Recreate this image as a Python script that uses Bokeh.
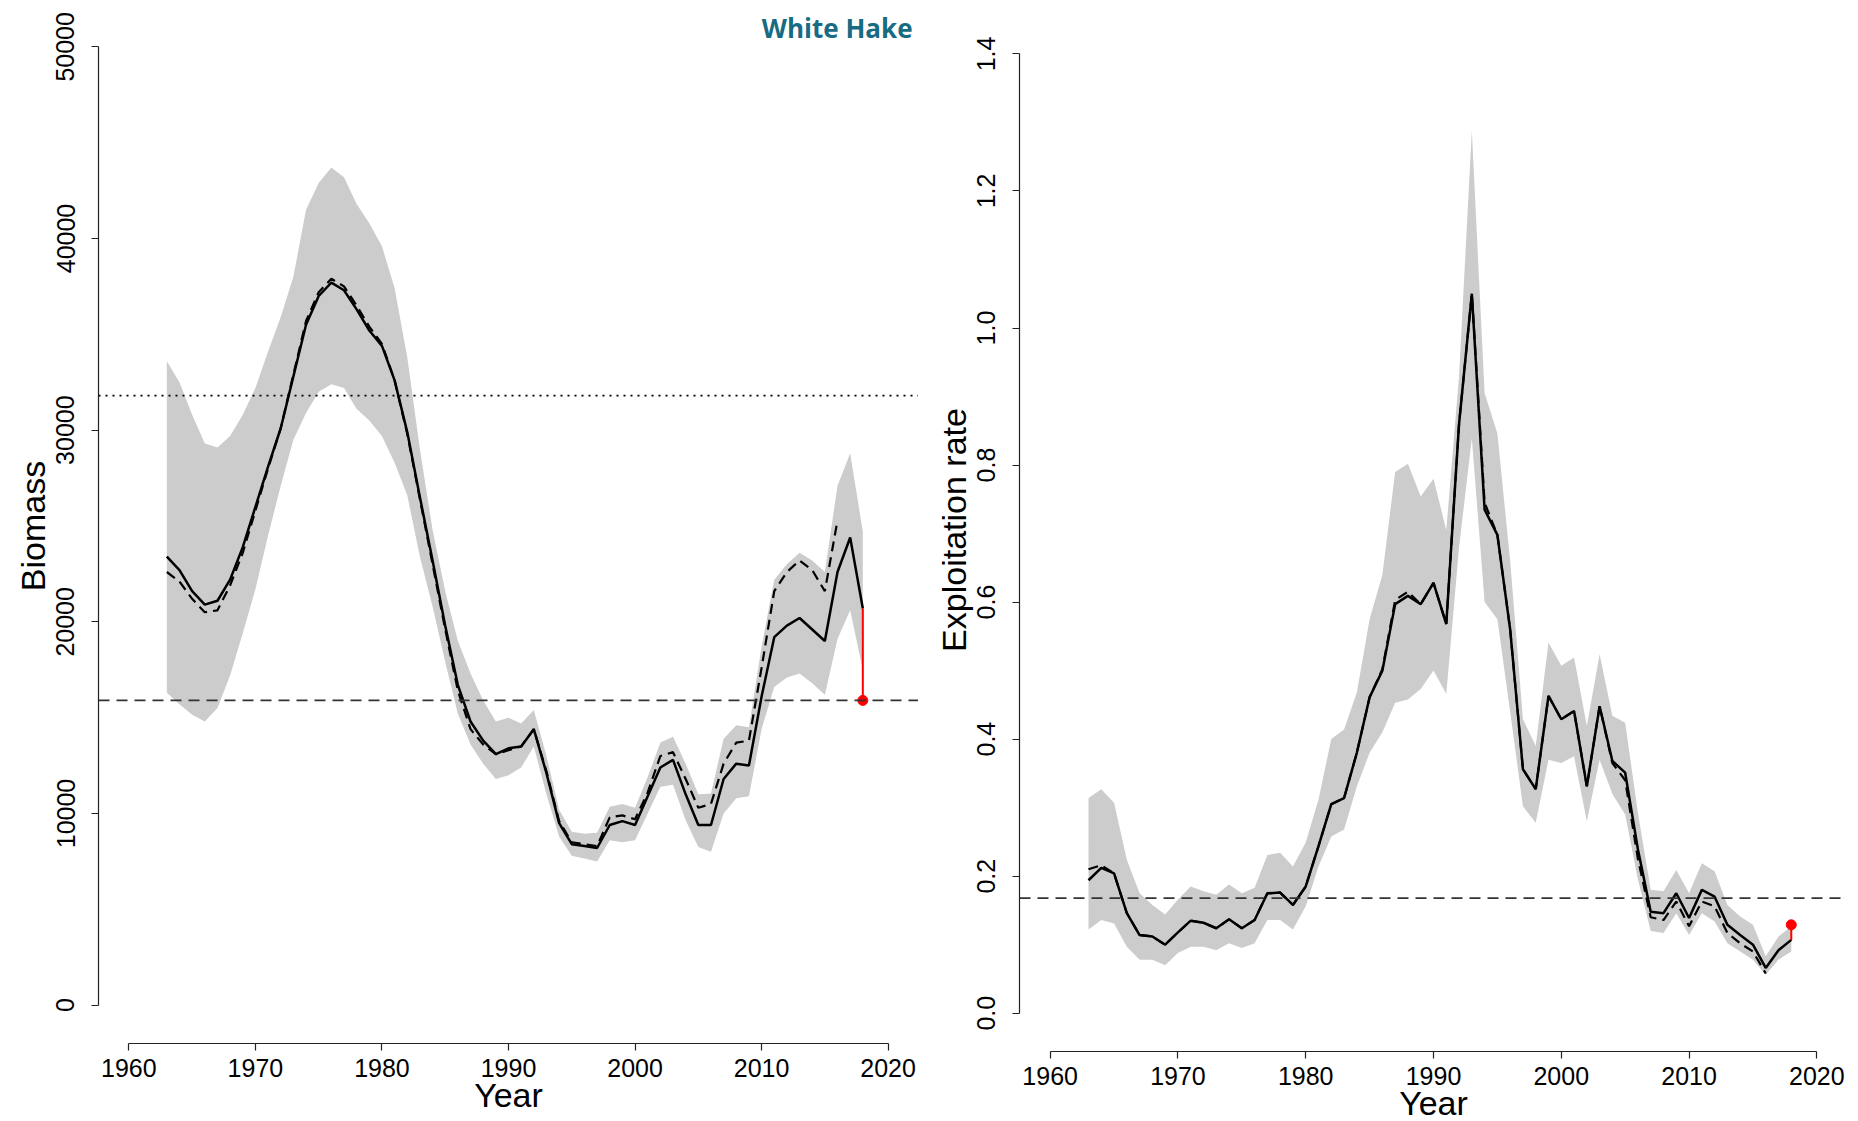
from bokeh.plotting import figure
from bokeh.models import Range1d, FixedTicker, PrintfTickFormatter, Span, Label
from bokeh.layouts import row
from bokeh.embed import file_html
from bokeh.resources import INLINE

# ---------------- data ----------------
years = list(range(1963, 2019))
years_retro = list(range(1963, 2017))

biomass = [23400, 22700, 21600, 20900, 21100, 22200, 23900, 26000, 28100, 30100,
           32800, 35500, 37000, 37700, 37300, 36300, 35200, 34400, 32600, 29900,
           26500, 23200, 19800, 16700, 14800, 13800, 13100, 13400, 13500, 14400,
           12100, 9500, 8400, 8300, 8200, 9400, 9600, 9400, 10900, 12400,
           12800, 11000, 9400, 9400, 11800, 12600, 12500, 16100, 19200, 19800,
           20200, 19600, 19000, 22600, 24400, 20700]
biomass_retro = [22600, 22100, 21200, 20500, 20600, 21900, 23600, 25800, 28000, 30100,
                 32900, 35700, 37200, 37900, 37500, 36500, 35400, 34500, 32600, 29800,
                 26400, 23000, 19600, 16400, 14400, 13600, 13100, 13300, 13500, 14400,
                 12200, 9600, 8500, 8400, 8300, 9800, 9900, 9700, 11100, 13000,
                 13200, 11800, 10300, 10500, 12600, 13700, 13800, 17600, 21600, 22600,
                 23200, 22700, 21600, 25300]
biomass_lo = [16300, 15700, 15150, 14800, 15500, 17200, 19400, 21700, 24500, 27100,
              29500, 30900, 32000, 32400, 32200, 31100, 30500, 29700, 28300, 26600,
              23400, 20800, 17900, 15200, 13600, 12600, 11800, 12000, 12400, 13500,
              11000, 8800, 7800, 7650, 7500, 8600, 8500, 8600, 10000, 11400,
              11500, 9650, 8250, 8000, 10000, 10800, 10900, 14400, 16600, 17100,
              17300, 16800, 16200, 19100, 20600, 17500]
biomass_hi = [33600, 32500, 30800, 29300, 29100, 29700, 30800, 32200, 34100, 35900,
              38000, 41500, 42900, 43700, 43200, 41800, 40800, 39600, 37400, 33800,
              29000, 24800, 21600, 19000, 17300, 15900, 14800, 15000, 14700, 15400,
              13000, 10200, 9050, 8950, 9000, 10350, 10500, 10300, 11900, 13700,
              14000, 12600, 11000, 11050, 13900, 14600, 14500, 18700, 22200, 23000,
              23600, 23200, 22600, 27100, 28800, 24700]
bmsy = 31800
bthresh = 15900
biomass_adj = 15900

exploit = [0.194, 0.212, 0.204, 0.146, 0.114, 0.112, 0.100, 0.118, 0.135, 0.132,
           0.124, 0.137, 0.124, 0.136, 0.175, 0.176, 0.158, 0.185, 0.244, 0.305,
           0.314, 0.380, 0.461, 0.500, 0.597, 0.609, 0.597, 0.628, 0.568, 0.860,
           1.050, 0.735, 0.698, 0.560, 0.356, 0.327, 0.463, 0.429, 0.441, 0.331,
           0.448, 0.368, 0.351, 0.239, 0.148, 0.146, 0.175, 0.139, 0.180, 0.170,
           0.129, 0.114, 0.100, 0.066, 0.092, 0.107]
exploit_retro = [0.210, 0.216, 0.204, 0.146, 0.114, 0.112, 0.100, 0.118, 0.135, 0.132,
                 0.124, 0.137, 0.124, 0.136, 0.175, 0.176, 0.158, 0.185, 0.244, 0.305,
                 0.314, 0.380, 0.461, 0.502, 0.603, 0.615, 0.597, 0.628, 0.568, 0.860,
                 1.050, 0.745, 0.698, 0.560, 0.356, 0.327, 0.463, 0.429, 0.441, 0.331,
                 0.448, 0.365, 0.340, 0.225, 0.140, 0.136, 0.163, 0.127, 0.163, 0.156,
                 0.117, 0.102, 0.090, 0.058]
exploit_lo = [0.122, 0.136, 0.131, 0.097, 0.078, 0.078, 0.070, 0.088, 0.097, 0.097,
              0.092, 0.102, 0.095, 0.102, 0.136, 0.136, 0.122, 0.156, 0.214, 0.258,
              0.268, 0.331, 0.380, 0.410, 0.453, 0.458, 0.473, 0.500, 0.466, 0.680,
              0.839, 0.600, 0.575, 0.440, 0.302, 0.278, 0.370, 0.365, 0.375, 0.280,
              0.370, 0.320, 0.290, 0.195, 0.120, 0.117, 0.146, 0.114, 0.146, 0.134,
              0.102, 0.090, 0.078, 0.056, 0.078, 0.090]
exploit_hi = [0.314, 0.327, 0.307, 0.224, 0.175, 0.158, 0.144, 0.166, 0.185, 0.178,
              0.173, 0.188, 0.175, 0.183, 0.231, 0.234, 0.214, 0.249, 0.312, 0.400,
              0.414, 0.468, 0.575, 0.640, 0.790, 0.802, 0.754, 0.780, 0.705, 0.930,
              1.288, 0.905, 0.846, 0.660, 0.429, 0.390, 0.541, 0.507, 0.519, 0.419,
              0.524, 0.434, 0.424, 0.292, 0.180, 0.178, 0.209, 0.175, 0.219, 0.207,
              0.158, 0.141, 0.129, 0.083, 0.112, 0.127]
fmsy = 0.168
exploit_adj = 0.129

year_ticks = [1960, 1970, 1980, 1990, 2000, 2010, 2020]
biomass_ticks = [0, 10000, 20000, 30000, 40000, 50000]
exploit_ticks = [0.0, 0.2, 0.4, 0.6, 0.8, 1.0, 1.2, 1.4]

title_text = "White Hake"

# ---------------- styling ----------------
FONT = "Liberation Sans"
BAND = "#cccccc"
TEAL = "#176b83"

TOP = 8
BOTTOM = 68


def make_fig(fw, fh, left, right, xr, yr):
    p = figure(frame_width=fw, frame_height=fh, output_backend="svg",
               toolbar_location=None, x_range=Range1d(*xr), y_range=Range1d(*yr),
               min_border_left=left, min_border_right=right,
               min_border_top=TOP, min_border_bottom=BOTTOM)
    p.outline_line_color = None
    p.xgrid.visible = False
    p.ygrid.visible = False
    p.background_fill_color = "white"
    p.border_fill_color = "white"
    for ax in (p.xaxis[0], p.yaxis[0]):
        ax.axis_line_color = "#222222"
        ax.axis_line_width = 1.2
        ax.major_tick_line_color = "#222222"
        ax.major_tick_line_width = 1.2
        ax.major_tick_out = 7
        ax.major_tick_in = 0
        ax.minor_tick_out = 0
        ax.minor_tick_in = 0
        ax.major_label_text_font = FONT
        ax.major_label_text_font_size = "25px"
        ax.major_label_text_color = "black"
        ax.axis_label_text_font = FONT
        ax.axis_label_text_font_size = "34px"
        ax.axis_label_text_font_style = "normal"
        ax.axis_label_text_color = "black"
    p.xaxis[0].ticker = FixedTicker(ticks=year_ticks)
    p.xaxis[0].bounds = (year_ticks[0], year_ticks[-1])
    p.xaxis[0].axis_label = "Year"
    p.xaxis[0].major_label_standoff = 8
    p.xaxis[0].axis_label_standoff = -4
    p.yaxis[0].major_label_orientation = "vertical"
    p.yaxis[0].major_label_standoff = 17
    p.yaxis[0].axis_label_standoff = 2
    return p


XR = (1957.6, 2022.4)

# ---------- left: biomass ----------
YR1 = (-2000, 52000)
p1 = make_fig(820, 1035, 98, 0, XR, YR1)
p1.yaxis[0].ticker = FixedTicker(ticks=biomass_ticks)
p1.yaxis[0].formatter = PrintfTickFormatter(format="%d")
p1.yaxis[0].bounds = (biomass_ticks[0], biomass_ticks[-1])
p1.yaxis[0].axis_label = "Biomass"

p1.varea(x=years, y1=biomass_lo, y2=biomass_hi, fill_color=BAND, fill_alpha=1.0)
p1.add_layout(Span(location=bmsy, dimension="width", line_color="black",
                   line_width=1.6, line_dash="2 5"))
p1.add_layout(Span(location=bthresh, dimension="width", line_color="#333333",
                   line_width=1.6, line_dash="11 7"))
p1.line(years_retro, biomass_retro, line_color="black", line_width=2.2, line_dash="10 6")
p1.line(years, biomass, line_color="black", line_width=2.5)
p1.segment(x0=[years[-1]], y0=[biomass[-1]], x1=[years[-1]], y1=[biomass_adj],
           line_color="red", line_width=2)
p1.scatter([years[-1]], [biomass_adj], size=10, color="red")

# slide title: kept fully visible at the top, near the top-right of the left panel
p1.add_layout(Label(x=XR[1], y=YR1[1], x_offset=-6, y_offset=-1,
                    text=title_text, text_font="Open Sans", text_font_size="26px",
                    text_font_style="bold", text_color=TEAL,
                    text_align="right", text_baseline="top"))

# ---------- right: exploitation rate ----------
YR2 = (-0.0559, 1.4663)
p2 = make_fig(828, 1043, 101, 5, XR, YR2)
p2.yaxis[0].ticker = FixedTicker(ticks=exploit_ticks)
p2.yaxis[0].formatter = PrintfTickFormatter(format="%.1f")
p2.yaxis[0].bounds = (exploit_ticks[0], exploit_ticks[-1])
p2.yaxis[0].axis_label = "Exploitation rate"

p2.varea(x=years, y1=exploit_lo, y2=exploit_hi, fill_color=BAND, fill_alpha=1.0)
p2.add_layout(Span(location=fmsy, dimension="width", line_color="#333333",
                   line_width=1.6, line_dash="11 7"))
p2.line(years_retro, exploit_retro, line_color="black", line_width=2.2, line_dash="10 6")
p2.line(years, exploit, line_color="black", line_width=2.5)
p2.segment(x0=[years[-1]], y0=[exploit[-1]], x1=[years[-1]], y1=[exploit_adj],
           line_color="red", line_width=2)
p2.scatter([years[-1]], [exploit_adj], size=10, color="red")

layout = row(p1, p2)
open("out.html", "w").write(file_html(layout, INLINE))
